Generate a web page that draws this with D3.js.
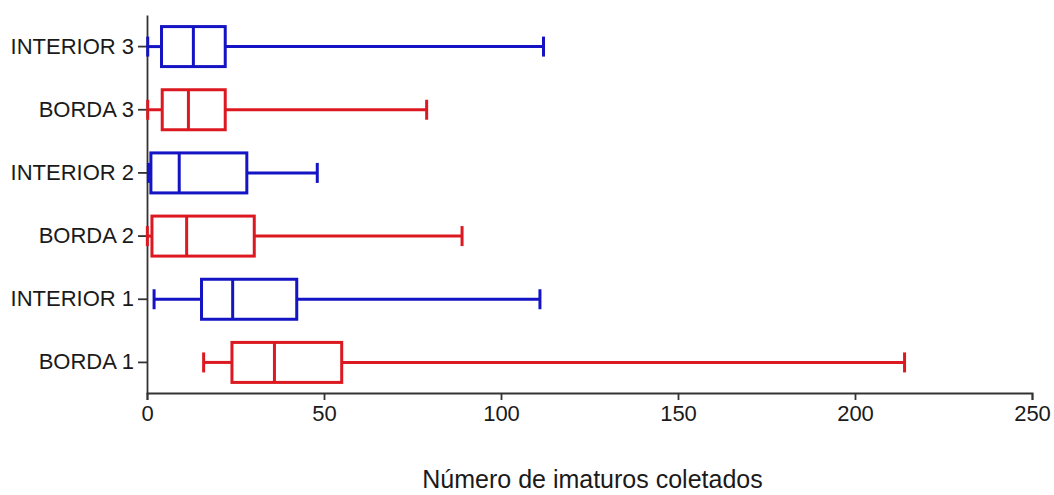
<!DOCTYPE html>
<html>
<head>
<meta charset="utf-8">
<script src="https://cdn.jsdelivr.net/npm/d3@7"></script>
<style>
  html, body { margin: 0; padding: 0; background: #fff; }
  svg { display: block; }
  text { font-family: Arial, "Liberation Sans", sans-serif; fill: #1a1a1a; }
</style>
</head>
<body>
<svg id="chart" width="1054" height="495"></svg>
<script>
// Data (bottom to top)
const categories = ["BORDA 1", "INTERIOR 1", "BORDA 2", "INTERIOR 2", "BORDA 3", "INTERIOR 3"];
const groupType  = ["borda", "interior", "borda", "interior", "borda", "interior"];
const minValues    = [16,   2,    0.1,  0.4,  0.2,  0.2];
const q1Values     = [24,   15.4, 1.4,  1.1,  4.3,  4.1];
const medianValues = [36,   24.2, 11.2, 9.1,  11.7, 13.1];
const q3Values     = [55,   42.3, 30.3, 28.2, 22.1, 22.1];
const maxValues    = [214,  111,  89,   48.1, 79,   112];
const xTicks = [0, 50, 100, 150, 200, 250];
const xTitle = "Número de imaturos coletados";

const data = categories.map((c, i) => ({
  cat: c, type: groupType[i], min: minValues[i], q1: q1Values[i],
  med: medianValues[i], q3: q3Values[i], max: maxValues[i]
}));

const colors = { borda: "#dc1820", interior: "#1414c4" };

const svg = d3.select("#chart");
const mLeft = 147, mRight = 1032, mTop = 15, mBottom = 394;

const x = d3.scaleLinear().domain([0, 250]).range([mLeft, mRight]);
const y = d3.scaleBand().domain(categories).range([mBottom, mTop]).padding(0);

const boxH = 40, capH = 20;

// Axes
const xAxis = svg.append("g")
  .attr("transform", `translate(0,${mBottom - 1})`)
  .call(d3.axisBottom(x).tickValues(xTicks).tickSize(7).tickSizeOuter(7).tickPadding(5));
xAxis.select(".domain").attr("stroke", "#333").attr("stroke-width", 1.8);
xAxis.selectAll(".tick line").attr("stroke", "#333").attr("stroke-width", 1.8);
xAxis.selectAll(".tick text").attr("font-size", 22).attr("font-family", "Arial, 'Liberation Sans', sans-serif").attr("fill", "#1a1a1a");

const yAxis = svg.append("g")
  .attr("transform", `translate(${mLeft},0)`)
  .call(d3.axisLeft(y).tickSize(9).tickSizeOuter(0).tickPadding(4));
yAxis.select(".domain").attr("stroke", "#333").attr("stroke-width", 1.8);
yAxis.selectAll(".tick line").attr("stroke", "#333").attr("stroke-width", 1.8);
yAxis.selectAll(".tick text").attr("font-size", 22).attr("font-family", "Arial, 'Liberation Sans', sans-serif").attr("fill", "#1a1a1a");

// Boxes
const g = svg.append("g");
const boxes = g.selectAll("g.box").data(data).join("g").attr("class", "box")
  .attr("stroke", d => colors[d.type]).attr("stroke-width", 3).attr("fill", "none");

const cy = d => y(d.cat) + y.bandwidth() / 2;

// whiskers
boxes.append("line")
  .attr("x1", d => x(d.min)).attr("x2", d => x(d.q1))
  .attr("y1", cy).attr("y2", cy);
boxes.append("line")
  .attr("x1", d => x(d.q3)).attr("x2", d => x(d.max))
  .attr("y1", cy).attr("y2", cy);
// caps
boxes.append("line")
  .attr("x1", d => x(d.min)).attr("x2", d => x(d.min))
  .attr("y1", d => cy(d) - capH / 2).attr("y2", d => cy(d) + capH / 2);
boxes.append("line")
  .attr("x1", d => x(d.max)).attr("x2", d => x(d.max))
  .attr("y1", d => cy(d) - capH / 2).attr("y2", d => cy(d) + capH / 2);
// box
boxes.append("rect")
  .attr("x", d => x(d.q1)).attr("width", d => x(d.q3) - x(d.q1))
  .attr("y", d => cy(d) - boxH / 2).attr("height", boxH)
  .attr("fill", "#fff");
// median
boxes.append("line")
  .attr("x1", d => x(d.med)).attr("x2", d => x(d.med))
  .attr("y1", d => cy(d) - boxH / 2).attr("y2", d => cy(d) + boxH / 2);

// Title
svg.append("text")
  .attr("x", (mLeft + mRight) / 2 + 3).attr("y", 488)
  .attr("text-anchor", "middle")
  .attr("font-size", 25)
  .text(xTitle);
</script>
</body>
</html>
